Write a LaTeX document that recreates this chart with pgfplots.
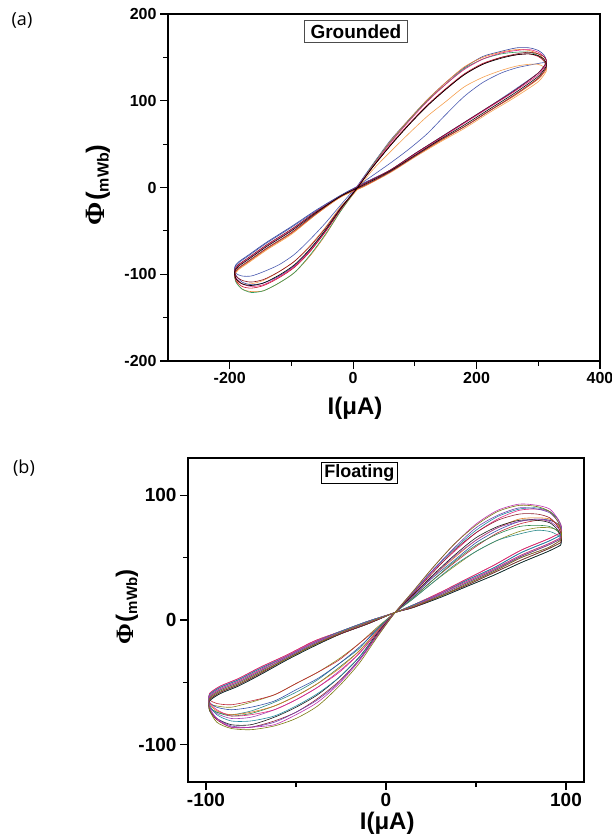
\documentclass[border=0pt]{standalone}
\usepackage{fontspec}
\setmainfont{Liberation Sans}
\newfontfamily\serifPhi{Liberation Serif}
\newfontfamily\panelfont{Open Sans}
\usepackage{pgfplots}
\usepackage{pgfplotstable}
\pgfplotsset{compat=1.18}

\definecolor{ca1}{HTML}{000000}
\definecolor{ca2}{HTML}{C8102E}
\definecolor{ca3}{HTML}{4A5AB0}
\definecolor{ca4}{HTML}{F08030}
\definecolor{ca5}{HTML}{2E9E5E}
\definecolor{ca6}{HTML}{E0207E}
\definecolor{ca7}{HTML}{8B1020}
\definecolor{ca8}{HTML}{3848A0}
\definecolor{ca9}{HTML}{F5A050}

\definecolor{cb1}{HTML}{8A8A20}
\definecolor{cb2}{HTML}{C02838}
\definecolor{cb3}{HTML}{2A8A8A}
\definecolor{cb4}{HTML}{3050A8}
\definecolor{cb5}{HTML}{2E8B4E}
\definecolor{cb6}{HTML}{E07820}
\definecolor{cb7}{HTML}{A040B0}
\definecolor{cb8}{HTML}{E02880}
\definecolor{cb9}{HTML}{1A1A1A}
\definecolor{cb10}{HTML}{208AA0}
\definecolor{cb11}{HTML}{902030}
\definecolor{cb12}{HTML}{7040B0}
\definecolor{cb13}{HTML}{C030B0}
\definecolor{cb14}{HTML}{7A7A10}

\pgfplotstableread{
I a1 a2 a3 a4 a5 a6 a7 a8 a9
313 140 138 143 136 138 142 144 144 134
300 128 126 132 125 126 130 132 132 122
260 108 106 112 105 106 110 111 111 103
220 90 88 93 88 88 92 93 93 86
180 72 70 75 70 70 74 75 75 68
140 55 54 57 53 54 56 57 57 52
100 37 36 39 36 36 38 39 39 35
60 19 18 20 18 18 20 20 20 17
20 4 3 6 2 3 5 5 6 2
-20 -10 -10 -9 -11 -10 -10 -10 -9 -11
-60 -29 -30 -27 -31 -30 -28 -28 -26 -31
-100 -50 -52 -46 -53 -52 -49 -48 -45 -54
-140 -68 -70 -64 -71 -70 -67 -66 -63 -72
-170 -83 -85 -79 -86 -85 -82 -81 -78 -87
-186 -91 -93 -87 -94 -93 -90 -89 -86 -95
-192 -97 -99 -93 -100 -99 -96 -95 -92 -101
-190 -105 -107 -99 -108 -109 -104 -102 -101 -107
-180 -111 -114 -102 -117 -117 -111 -107 -109 -111
-165 -113 -116 -102 -120 -121 -114 -109 -112 -111
-145 -110 -113 -97 -119 -119 -112 -106 -110 -107
-120 -101 -104 -89 -110 -110 -103 -97 -102 -97
-95 -89 -92 -77 -98 -98 -91 -85 -90 -85
-70 -71 -74 -60 -79 -78 -73 -68 -72 -67
-45 -49 -51 -41 -55 -54 -51 -47 -50 -46
-20 -24 -25 -20 -27 -27 -25 -23 -25 -22
5 -2 -2 0 -3 -2 -1 -2 0 -4
30 22 22 13 24 24 23 22 25 19
60 48 49 28 53 52 51 48 54 41
90 72 73 44 78 77 76 72 78 62
120 94 95 62 101 100 99 94 101 82
150 113 114 84 121 119 119 113 121 99
180 130 131 105 139 137 136 130 138 116
210 142 143 121 150 148 148 142 151 127
240 149 150 132 156 154 155 150 157 135
265 153 153 138 159 156 158 154 161 140
285 154 154 141 158 156 159 156 161 142
300 152 151 143 154 152 156 154 158 142
309 148 146 144 148 146 151 151 153 139
313 143 141 143 141 140 146 147 147 136
313 140 138 143 136 138 142 144 144 134
}\loopA

\pgfplotstableread{
I b1 b2 b3 b4 b5 b6 b7 b8 b9 b10 b11 b12 b13 b14
97 65 70 60 68 62 66 64 70 60 68 62 65 66 64
90 60 65 55 63 57 61 58 65 55 63 57 60 61 58
75 51 56 46 54 48 52 50 56 46 54 48 51 52 50
60 40 44 36 42 38 41 39 44 36 42 38 40 41 39
45 30 33 27 32 28 31 29 33 27 32 28 30 31 29
30 20 22 18 21 19 21 19 22 18 21 19 20 21 19
15 11 12 10 12 10 11 11 12 10 12 10 11 11 11
5 6 6 6 6 6 6 6 6 6 6 6 6 6 6
-10 -2 -1 -3 -1 -3 -2 -2 -1 -3 -1 -3 -2 -2 -2
-25 -10 -9 -11 -9 -11 -10 -10 -9 -11 -9 -11 -10 -10 -10
-40 -19 -17 -21 -18 -20 -18 -20 -17 -21 -18 -20 -19 -18 -20
-55 -30 -28 -32 -29 -31 -29 -31 -28 -32 -29 -31 -30 -29 -31
-70 -41 -38 -44 -39 -43 -40 -42 -38 -44 -39 -43 -41 -40 -42
-82 -50 -47 -53 -48 -52 -49 -51 -47 -53 -48 -52 -50 -49 -51
-92 -56 -53 -59 -54 -58 -55 -57 -53 -59 -54 -58 -56 -55 -57
-98 -62 -59 -65 -60 -64 -61 -63 -59 -65 -60 -64 -62 -61 -63
-98 -67 -64 -70 -66 -70 -67 -70 -66 -73 -68 -72 -71 -70 -72
-94 -69 -67 -74 -70 -74 -73 -75 -72 -79 -76 -80 -79 -79 -82
-86 -70 -68 -76 -72 -77 -76 -79 -77 -84 -81 -86 -85 -86 -87
-75 -66 -65 -73 -70 -75 -74 -78 -76 -84 -81 -86 -86 -86 -88
-62 -60 -60 -66 -65 -69 -69 -72 -72 -78 -77 -81 -82 -84 -85
-50 -51 -51 -58 -56 -61 -61 -64 -64 -70 -69 -74 -74 -76 -79
-38 -42 -42 -48 -47 -51 -51 -54 -54 -60 -59 -63 -64 -66 -69
-26 -31 -32 -35 -35 -38 -39 -41 -42 -46 -46 -49 -50 -51 -53
-15 -19 -19 -23 -22 -25 -25 -27 -27 -30 -30 -32 -32 -33 -35
-5 -6 -7 -7 -8 -9 -9 -10 -10 -11 -12 -12 -13 -13 -14
5 6 6 6 6 6 6 6 6 6 6 6 6 6 6
15 17 18 17 19 18 20 19 21 20 22 21 22 23 23
26 30 32 30 34 32 35 35 39 36 40 38 40 42 42
38 43 46 44 48 47 50 51 55 52 57 56 58 61 61
50 55 59 55 62 60 64 64 70 66 72 70 74 77 76
62 64 70 64 72 69 74 74 81 75 83 80 84 88 87
74 71 77 69 79 75 81 79 88 80 89 85 90 93 92
84 74 80 72 81 76 82 81 89 80 90 85 89 92 91
91 74 80 71 80 75 81 79 87 78 87 82 86 89 87
95.5 72 77 68 77 71 76 74 81 72 81 75 79 81 79
97.5 68 73 64 72 66 71 68 75 65 74 68 71 73 70
97 65 70 60 68 62 66 64 70 60 68 62 65 66 64
}\loopB

\pgfplotsset{
  panel/.style={
    scale only axis,
    axis line style={line width=1.5pt},
    tick style={line width=1.2pt, black},
    major tick length=8pt,
    minor tick length=5pt,
    tick align=outside,
    xtick pos=bottom,
    ytick pos=left,
    minor tick num=1,
    /pgf/number format/assume math mode=true,
    clip=true,
  },
  lp/.style={smooth, tension=0.45, line width=0.6pt, no marks},
}

\newcommand{\philabel}[3]{{\serifPhi\bfseries\fontsize{#1}{#1}\selectfont Φ}\,{\bfseries\fontsize{#2}{#2}\selectfont(}{\bfseries\fontsize{#3}{#3}\selectfont\raisebox{-4pt}{mWb}}{\bfseries\fontsize{#2}{#2}\selectfont)}}

\begin{document}
\begin{tikzpicture}
\path[use as bounding box] (0pt,0pt) rectangle (612pt,-838pt);
\node[font=\panelfont\fontsize{18}{18}\selectfont] at (22pt,-20pt) {(a)};
\node[font=\panelfont\fontsize{18}{18}\selectfont] at (24pt,-468pt) {(b)};

\begin{axis}[panel,
  at={(168pt,-14pt)}, anchor=north west,
  width=432pt, height=347pt,
  xmin=-300, xmax=400, ymin=-200, ymax=200,
  xtick={-200,0,200,400}, ytick={-200,-100,0,100,200},
  tick label style={font=\bfseries\fontsize{16}{16}\selectfont},
  xlabel={I(μA)},
  xlabel style={font=\bfseries\fontsize{24}{24}\selectfont, at={(axis description cs:0.433,-0.135)}, anchor=center},
  ylabel={\philabel{28}{26}{16}},
  ylabel style={at={(axis description cs:-0.162,0.507)}, anchor=center},
]
\addplot[lp, color=ca3] table[x=I, y=a3] {\loopA};
\addplot[lp, color=ca9] table[x=I, y=a9] {\loopA};
\addplot[lp, color=ca8] table[x=I, y=a8] {\loopA};
\addplot[lp, color=ca4] table[x=I, y=a4] {\loopA};
\addplot[lp, color=ca5] table[x=I, y=a5] {\loopA};
\addplot[lp, color=ca6] table[x=I, y=a6] {\loopA};
\addplot[lp, color=ca2] table[x=I, y=a2] {\loopA};
\addplot[lp, color=ca7] table[x=I, y=a7] {\loopA};
\addplot[lp, color=ca1] table[x=I, y=a1] {\loopA};
\node[draw=black!70, line width=0.8pt, inner xsep=6pt, inner ysep=4pt, font=\bfseries\fontsize{19}{19}\selectfont] at (axis description cs:0.435,0.95) {Grounded};
\end{axis}

\begin{axis}[panel,
  at={(188pt,-458pt)}, anchor=north west,
  width=396pt, height=324pt,
  xmin=-110, xmax=110, ymin=-130, ymax=130,
  xtick={-100,0,100}, ytick={-100,0,100},
  tick label style={font=\bfseries\fontsize{19}{19}\selectfont},
  xlabel={I(μA)},
  xlabel style={font=\bfseries\fontsize{24}{24}\selectfont, at={(axis description cs:0.503,-0.128)}, anchor=center},
  ylabel={\philabel{25}{24}{15}},
  ylabel style={at={(axis description cs:-0.154,0.54)}, anchor=center},
]
\addplot[lp, color=cb1] table[x=I, y=b1] {\loopB};
\addplot[lp, color=cb2] table[x=I, y=b2] {\loopB};
\addplot[lp, color=cb3] table[x=I, y=b3] {\loopB};
\addplot[lp, color=cb4] table[x=I, y=b4] {\loopB};
\addplot[lp, color=cb5] table[x=I, y=b5] {\loopB};
\addplot[lp, color=cb6] table[x=I, y=b6] {\loopB};
\addplot[lp, color=cb7] table[x=I, y=b7] {\loopB};
\addplot[lp, color=cb8] table[x=I, y=b8] {\loopB};
\addplot[lp, color=cb9] table[x=I, y=b9] {\loopB};
\addplot[lp, color=cb10] table[x=I, y=b10] {\loopB};
\addplot[lp, color=cb11] table[x=I, y=b11] {\loopB};
\addplot[lp, color=cb12] table[x=I, y=b12] {\loopB};
\addplot[lp, color=cb13] table[x=I, y=b13] {\loopB};
\addplot[lp, color=cb14] table[x=I, y=b14] {\loopB};
\node[draw=black, line width=0.8pt, inner xsep=3pt, inner ysep=2pt, font=\bfseries\fontsize{18}{18}\selectfont] at (axis description cs:0.433,0.954) {Floating};
\end{axis}
\end{tikzpicture}
\end{document}
